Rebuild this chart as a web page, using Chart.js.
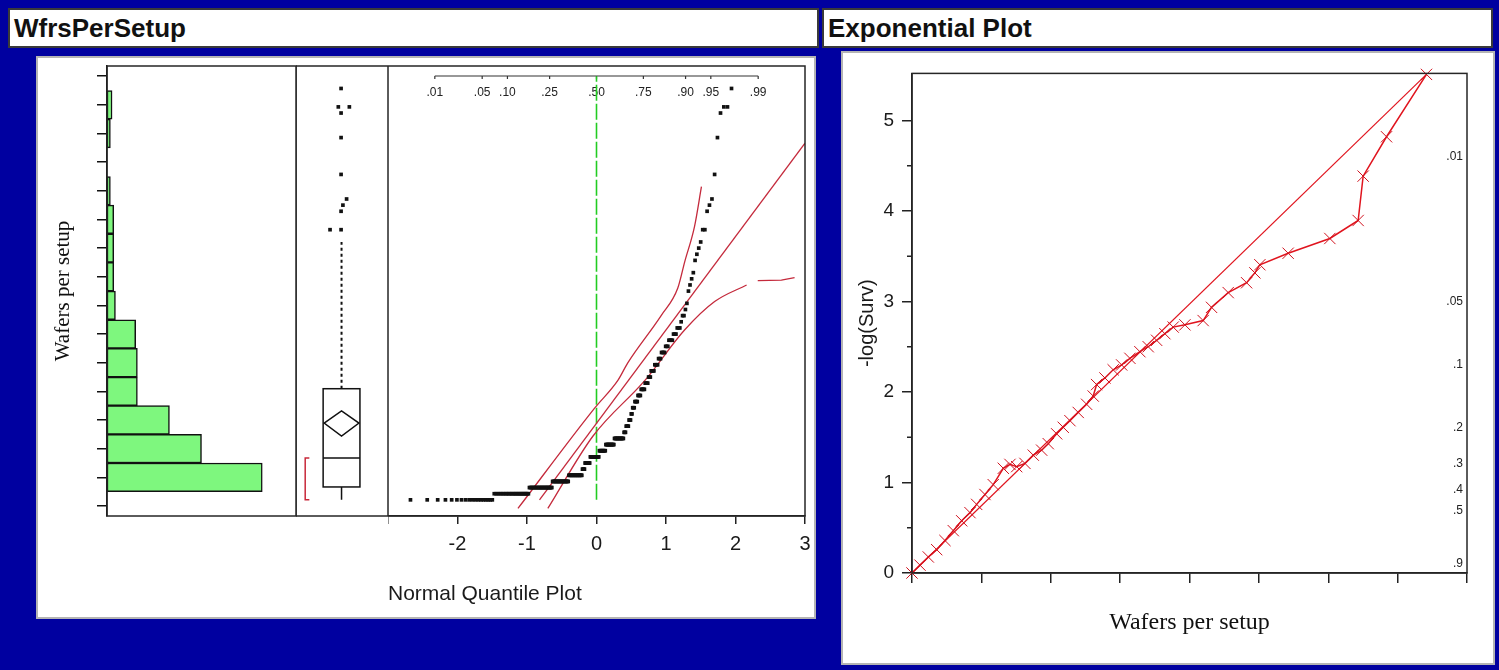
<!DOCTYPE html>
<html>
<head>
<meta charset="utf-8">
<title>WfrsPerSetup</title>
<script src="https://cdn.jsdelivr.net/npm/chart.js@4.4.1/dist/chart.umd.min.js"></script>
<style>
html,body{margin:0;padding:0}
body{width:1499px;height:670px;background:#0000a0;position:relative;overflow:hidden;font-family:"Liberation Sans",Arial,sans-serif}
.abs{position:absolute;box-sizing:border-box}
.tbox{background:#fff;border:2px solid #3a3a3a;display:flex;align-items:center;padding-left:4px}
.tbox span{font-weight:bold;font-size:26px;color:#111;white-space:nowrap;line-height:1}
.panel{background:#fff;border:2px solid #b4b4b4}
canvas{position:absolute}
</style>
</head>
<body>
<div class="abs tbox" style="left:8px;top:8px;width:811px;height:40px"><span>WfrsPerSetup</span></div>
<div class="abs panel" style="left:36px;top:56px;width:780px;height:563px"></div>
<div class="abs tbox" style="left:822px;top:8px;width:671px;height:40px"><span>Exponential Plot</span></div>
<div class="abs panel" style="left:841px;top:51px;width:654px;height:614px"></div>
<canvas id="hist" width="260" height="474" style="left:40px;top:56px"></canvas>
<canvas id="boxp" width="92" height="474" style="left:296px;top:56px"></canvas>
<canvas id="nqp" width="428" height="564" style="left:388px;top:56px"></canvas>
<canvas id="expo" width="646" height="608" style="left:842px;top:54px"></canvas>
<script>
// ---------------- data ----------------
// distinct wafer-per-setup values and how often each occurs (sorted)
const wafValues = [1,2,3,4,5,6,7,8,9,10,11,12,13,14,15,16,17,18,19,20,21,22,23,24,25,26,27,28,29,30,31,32,33,35,36,37,38,40,41,42,43,45,48,49,50,54,60,64,65,68];
const wafCounts = [18,26,26,22,20,4,8,14,10,13,14,3,4,3,2,3,4,4,5,4,3,4,4,3,4,3,4,3,3,1,2,1,1,1,1,1,1,1,1,1,1,2,1,1,1,1,1,1,2,1];
// total sample size (a few observations lie above the plotted range)
const sampleSize = 268;
const histBinEdges = [0,5,10,15,20,25,30,35,40,45,50,55,60,65,70];
const histCountMax = 112;
const wafAxisMin = -1.63, wafAxisMax = 71.66;

// box plot summary
const boxMin = 1.0, boxQ1 = 3.1, boxMedian = 7.8, boxQ3 = 19.1, boxWhiskerHigh = 43;
const boxMean = 13.5, boxMeanLo = 11.4, boxMeanHi = 15.5;
const shortestHalf = [1.0, 7.8];
const outlierValues = [68,65,65,64,60,54,50,49,48,45,45];
const outlierJitter = [0.49,0.46,0.58,0.49,0.49,0.49,0.55,0.51,0.49,0.37,0.49];

// normal quantile plot
const nqTicks = [-3,-2,-1,0,1,2,3];
const probLabels = ['.01','.05','.10','.25','.50','.75','.90','.95','.99'];
const probValues = [0.01,0.05,0.10,0.25,0.50,0.75,0.90,0.95,0.99];
const fitLineZ = [-0.82, 3.0];
const fitLineV = [1.0, 59.1];
const upperBandZ = [-1.13,-0.03,0.31,0.45,0.93,1.17,1.27,1.41,1.51];
const upperBandV = [-0.4,15.9,20.5,23.3,31.0,35.5,39.8,45.5,52.0];
const lowerBandZ = [-0.70,-0.05,0.70,1.27,1.70,2.16];
const lowerBandV = [-0.4,11.4,20.5,28.7,33.3,36.0];
const tailSegZ = [2.32,2.66,2.85];
const tailSegV = [36.7,36.8,37.2];
const refLineZ = [0,0];
const refLineV = [1,70];

// exponential plot
const expX = [0,1.15,2.35,3.56,4.75,5.95,7.16,8.36,9.32,10.52,11.71,13.16,14.12,15.09,16.28,17.48,18.69,19.64,20.85,21.8,22.77,23.96,25.17,26.12,26.61,27.81,29.0,30.22,31.41,32.85,34.05,35.26,36.45,37.65,39.34,41.97,43.18,45.58,48.23,49.42,50.14,54.22,60.23,64.31,65.03,68.4,74.16];
const expY = [0,0.087,0.177,0.258,0.359,0.468,0.577,0.667,0.758,0.867,0.976,1.157,1.2,1.175,1.211,1.302,1.357,1.429,1.538,1.61,1.683,1.774,1.864,1.955,2.082,2.155,2.245,2.299,2.372,2.445,2.5,2.571,2.644,2.717,2.742,2.789,2.935,3.098,3.207,3.316,3.406,3.533,3.696,3.895,4.385,4.82,5.509];
const expFitX = [0, 74.16];
const expFitY = [0, 5.509];
const expXTicks = [0,10,20,30,40,50,60,70,80];
const expYTicks = [0,1,2,3,4,5];
const expYMinor = [0.5,1.5,2.5,3.5,4.5];
const survLabels = ['.01','.05','.1','.2','.3','.4','.5','.9'];
const survValues = [0.01,0.05,0.1,0.2,0.3,0.4,0.5,0.9];

// ---------------- helpers ----------------
function invNorm(p){
  const a=[-3.969683028665376e+01,2.209460984245205e+02,-2.759285104469687e+02,1.383577518672690e+02,-3.066479806614716e+01,2.506628277459239e+00];
  const b=[-5.447609879822406e+01,1.615858368580409e+02,-1.556989798598866e+02,6.680131188771972e+01,-1.328068155288572e+01];
  const c=[-7.784894002430293e-03,-3.223964580411365e-01,-2.400758277161838e+00,-2.549732539343734e+00,4.374664141464968e+00,2.938163982698783e+00];
  const d=[7.784695709041462e-03,3.224671290700398e-01,2.445134137142996e+00,3.754408661907416e+00];
  const pl=0.02425, ph=1-pl; let q,r;
  if(p<pl){q=Math.sqrt(-2*Math.log(p));return (((((c[0]*q+c[1])*q+c[2])*q+c[3])*q+c[4])*q+c[5])/((((d[0]*q+d[1])*q+d[2])*q+d[3])*q+1);}
  if(p<=ph){q=p-0.5;r=q*q;return (((((a[0]*r+a[1])*r+a[2])*r+a[3])*r+a[4])*r+a[5])*q/(((((b[0]*r+b[1])*r+b[2])*r+b[3])*r+b[4])*r+1);}
  q=Math.sqrt(-2*Math.log(1-p));return -(((((c[0]*q+c[1])*q+c[2])*q+c[3])*q+c[4])*q+c[5])/((((d[0]*q+d[1])*q+d[2])*q+d[3])*q+1);
}
const zip = (xs, ys) => xs.map((x,i)=>({x:x, y:ys[i]}));
const SANS = '"Liberation Sans", Arial, sans-serif';
const SERIF = '"Liberation Serif", "Times New Roman", serif';
const INK = '#1a1a1a';

Chart.defaults.font.family = SANS;
Chart.defaults.color = INK;
Chart.defaults.animation = false;
Chart.defaults.events = [];
Chart.defaults.layout.autoPadding = false;
Chart.defaults.plugins.legend.display = false;
Chart.defaults.plugins.tooltip.enabled = false;

const framePlugin = {
  id:'frame',
  afterDraw(chart){
    const {ctx, chartArea:a} = chart;
    ctx.save(); ctx.strokeStyle='#262626'; ctx.lineWidth=1.5;
    ctx.strokeRect(a.left, a.top, a.right-a.left, a.bottom-a.top);
    ctx.restore();
  }
};

// ---------------- histogram ----------------
const binCenters = [], binCounts = [];
for (let i=0;i<histBinEdges.length-1;i++){
  const lo=histBinEdges[i], hi=histBinEdges[i+1];
  let cnt=0;
  wafValues.forEach((v,j)=>{ if(v>=lo && v<hi) cnt+=wafCounts[j]; });
  binCenters.push((lo+hi)/2); binCounts.push(cnt);
}
new Chart(document.getElementById('hist'), {
  type:'bar',
  data:{datasets:[{
    data: binCenters.map((c,i)=>({x: binCounts[i] || null, y: c})),
    backgroundColor:'#7ef77e', borderColor:'#111', borderWidth:1.5, borderSkipped:false,
    categoryPercentage:1, barPercentage:1
  }]},
  options:{
    responsive:false, indexAxis:'y',
    layout:{padding:{top:10,bottom:14,right:4,left:0}},
    scales:{
      x:{type:'linear', display:false, min:0, max:histCountMax},
      y:{type:'linear', min:wafAxisMin, max:wafAxisMax,
         afterBuildTicks:s=>{ s.ticks = histBinEdges.map(v=>({value:v})); },
         afterFit:s=>{ s.width = 67; },
         ticks:{display:false},
         grid:{drawOnChartArea:false, drawTicks:true, tickLength:10, color:'#111', lineWidth:1.5},
         border:{display:true, color:'#111', width:1.5},
         title:{display:true, text:'Wafers per setup', color:'#111', font:{family:SERIF, size:21}, padding:{top:11,bottom:0}}
      }
    }
  },
  plugins:[framePlugin]
});

// ---------------- box plot ----------------
const boxCenter = 0.495, boxHalf = 0.2;
const boxPlugin = {
  id:'boxdraw',
  afterDatasetsDraw(chart){
    const {ctx, scales:{x,y}} = chart;
    const cx = x.getPixelForValue(boxCenter);
    const l = x.getPixelForValue(boxCenter-boxHalf), r = x.getPixelForValue(boxCenter+boxHalf);
    const yq1 = y.getPixelForValue(boxQ1), yq3 = y.getPixelForValue(boxQ3);
    ctx.save();
    ctx.strokeStyle='#111'; ctx.lineWidth=1.5;
    ctx.strokeRect(l, yq3, r-l, yq1-yq3);
    ctx.beginPath();
    const ym = y.getPixelForValue(boxMedian);
    ctx.moveTo(l, ym); ctx.lineTo(r, ym);
    ctx.moveTo(cx, yq1); ctx.lineTo(cx, y.getPixelForValue(boxMin));
    ctx.stroke();
    ctx.beginPath();
    const yMean = y.getPixelForValue(boxMean);
    ctx.moveTo(l+1, yMean); ctx.lineTo(cx, y.getPixelForValue(boxMeanHi));
    ctx.lineTo(r-1, yMean); ctx.lineTo(cx, y.getPixelForValue(boxMeanLo)); ctx.closePath();
    ctx.stroke();
    ctx.beginPath(); ctx.setLineDash([3,3]); ctx.lineWidth=2;
    ctx.moveTo(cx, yq3); ctx.lineTo(cx, y.getPixelForValue(boxWhiskerHigh));
    ctx.stroke(); ctx.setLineDash([]);
    const bx = x.getPixelForValue(0.1), bx2 = x.getPixelForValue(0.145);
    const b1 = y.getPixelForValue(shortestHalf[0]), b2 = y.getPixelForValue(shortestHalf[1]);
    ctx.beginPath(); ctx.strokeStyle='#c8283a'; ctx.lineWidth=1.5;
    ctx.moveTo(bx2, b2); ctx.lineTo(bx, b2); ctx.lineTo(bx, b1); ctx.lineTo(bx2, b1);
    ctx.stroke();
    ctx.restore();
  }
};
new Chart(document.getElementById('boxp'), {
  type:'scatter',
  data:{datasets:[{
    data: zip(outlierJitter, outlierValues),
    pointStyle:'rect', pointRadius:2.6, backgroundColor:'#111', borderWidth:0
  }]},
  options:{
    responsive:false,
    layout:{padding:{top:10,bottom:14,left:0,right:0}},
    scales:{ x:{display:false, min:0, max:1}, y:{display:false, min:wafAxisMin, max:wafAxisMax} }
  },
  plugins:[boxPlugin, framePlugin]
});

// ---------------- normal quantile plot ----------------
const nqPoints = [];
let rank = 0;
wafValues.forEach((v,j)=>{ for(let k=0;k<wafCounts[j];k++){ rank++; nqPoints.push({x: invNorm(rank/(sampleSize+1)), y: v}); } });

const probAxisPlugin = {
  id:'probaxis',
  beforeDatasetsDraw(chart){
    const {ctx, chartArea:a, scales:{x}} = chart;
    const y0 = a.top + 10;
    const xs = probValues.map(p=>x.getPixelForValue(invNorm(p)));
    ctx.save();
    ctx.strokeStyle='#333'; ctx.lineWidth=1.2;
    ctx.beginPath(); ctx.moveTo(xs[0], y0); ctx.lineTo(xs[xs.length-1], y0);
    xs.forEach(px=>{ ctx.moveTo(px, y0); ctx.lineTo(px, y0+3); });
    ctx.stroke();
    ctx.fillStyle='#222'; ctx.font='12px '+SANS; ctx.textAlign='center'; ctx.textBaseline='middle';
    xs.forEach((px,i)=>ctx.fillText(probLabels[i], px, y0+17));
    ctx.restore();
  }
};
const RED_NQ = '#c42a3c';
const lineDs = (pts, color, width, dash, smooth) => ({data:pts, showLine:true, pointRadius:0, borderColor:color, borderWidth:width, borderDash:dash||[], fill:false, cubicInterpolationMode: smooth ? 'monotone' : 'default'});
new Chart(document.getElementById('nqp'), {
  type:'scatter',
  data:{datasets:[
    {data:nqPoints, pointStyle:'rect', pointRadius:2.6, backgroundColor:'#111', borderWidth:0},
    lineDs(zip(fitLineZ, fitLineV), RED_NQ, 1.3),
    lineDs(zip(upperBandZ, upperBandV), RED_NQ, 1.3, null, true),
    lineDs(zip(lowerBandZ, lowerBandV), RED_NQ, 1.3, null, true),
    lineDs(zip(tailSegZ, tailSegV), RED_NQ, 1.3),
    lineDs(zip(refLineZ, refLineV), '#22cc22', 1.6, [16,3])
  ]},
  options:{
    responsive:false,
    layout:{padding:{top:10,right:11,left:0,bottom:0}},
    scales:{
      x:{type:'linear', min:-3, max:3,
         afterBuildTicks:s=>{ s.ticks = nqTicks.map(v=>({value:v})); },
         afterFit:s=>{ s.height = 104; s.paddingLeft = 0; s.paddingRight = 0; },
         ticks:{font:{size:20}, color:INK, padding:8, maxRotation:0, callback:v=> v===-3 ? '' : String(v)},
         grid:{drawOnChartArea:false, tickLength:8, color:'#222', lineWidth:1.5},
         border:{display:true, color:'#222', width:1.5},
         title:{display:true, text:'Normal Quantile Plot', align:'start', color:INK, font:{size:21}, padding:{top:0,bottom:13}}
      },
      y:{type:'linear', display:false, min:wafAxisMin, max:wafAxisMax}
    }
  },
  plugins:[probAxisPlugin, framePlugin]
});

// ---------------- exponential plot ----------------
const RED_EX = '#e0141e';
const expPlugin = {
  id:'expextra',
  afterDraw(chart){
    const {ctx, chartArea:a, scales:{y}} = chart;
    ctx.save();
    ctx.strokeStyle='#222'; ctx.lineWidth=1.5;
    ctx.beginPath();
    expYMinor.forEach(v=>{ const py=y.getPixelForValue(v); ctx.moveTo(a.left-5, py); ctx.lineTo(a.left, py); });
    ctx.stroke();
    ctx.fillStyle='#222'; ctx.font='12px '+SANS; ctx.textAlign='right'; ctx.textBaseline='middle';
    survValues.forEach((s,i)=>{ ctx.fillText(survLabels[i], a.right-4, y.getPixelForValue(-Math.log(s))); });
    ctx.restore();
  }
};
new Chart(document.getElementById('expo'), {
  type:'scatter',
  data:{datasets:[
    {data:zip(expX, expY), showLine:true, borderColor:RED_EX, borderWidth:1.5, pointStyle:'crossRot', pointRadius:8, pointBorderWidth:1, pointBorderColor:'#d0101c', backgroundColor:RED_EX, clip:false},
    {data:zip(expFitX, expFitY), showLine:true, borderColor:RED_EX, borderWidth:1.2, pointRadius:0, clip:false}
  ]},
  options:{
    responsive:false,
    layout:{padding:{top:12,right:21,left:0,bottom:0}},
    scales:{
      x:{type:'linear', min:0, max:80,
         afterBuildTicks:s=>{ s.ticks = expXTicks.map(v=>({value:v})); },
         afterFit:s=>{ s.height = 89; s.paddingLeft = 0; s.paddingRight = 0; },
         ticks:{display:false},
         grid:{drawOnChartArea:false, tickLength:10, color:'#222', lineWidth:1.5},
         border:{display:true, color:'#222', width:1.5},
         title:{display:true, text:'Wafers per setup', color:'#111', font:{family:SERIF, size:24}, padding:{top:0,bottom:25}}
      },
      y:{type:'linear', min:0, max:5.52,
         afterBuildTicks:s=>{ s.ticks = expYTicks.map(v=>({value:v})); },
         afterFit:s=>{ s.width = 70; },
         ticks:{font:{size:19}, color:INK, padding:8},
         grid:{drawOnChartArea:false, tickLength:10, color:'#222', lineWidth:1.5},
         border:{display:true, color:'#222', width:1.5},
         title:{display:true, text:'-log(Surv)', color:INK, font:{size:20}, padding:{top:13,bottom:0}}
      }
    }
  },
  plugins:[expPlugin, framePlugin]
});
</script>
</body>
</html>
